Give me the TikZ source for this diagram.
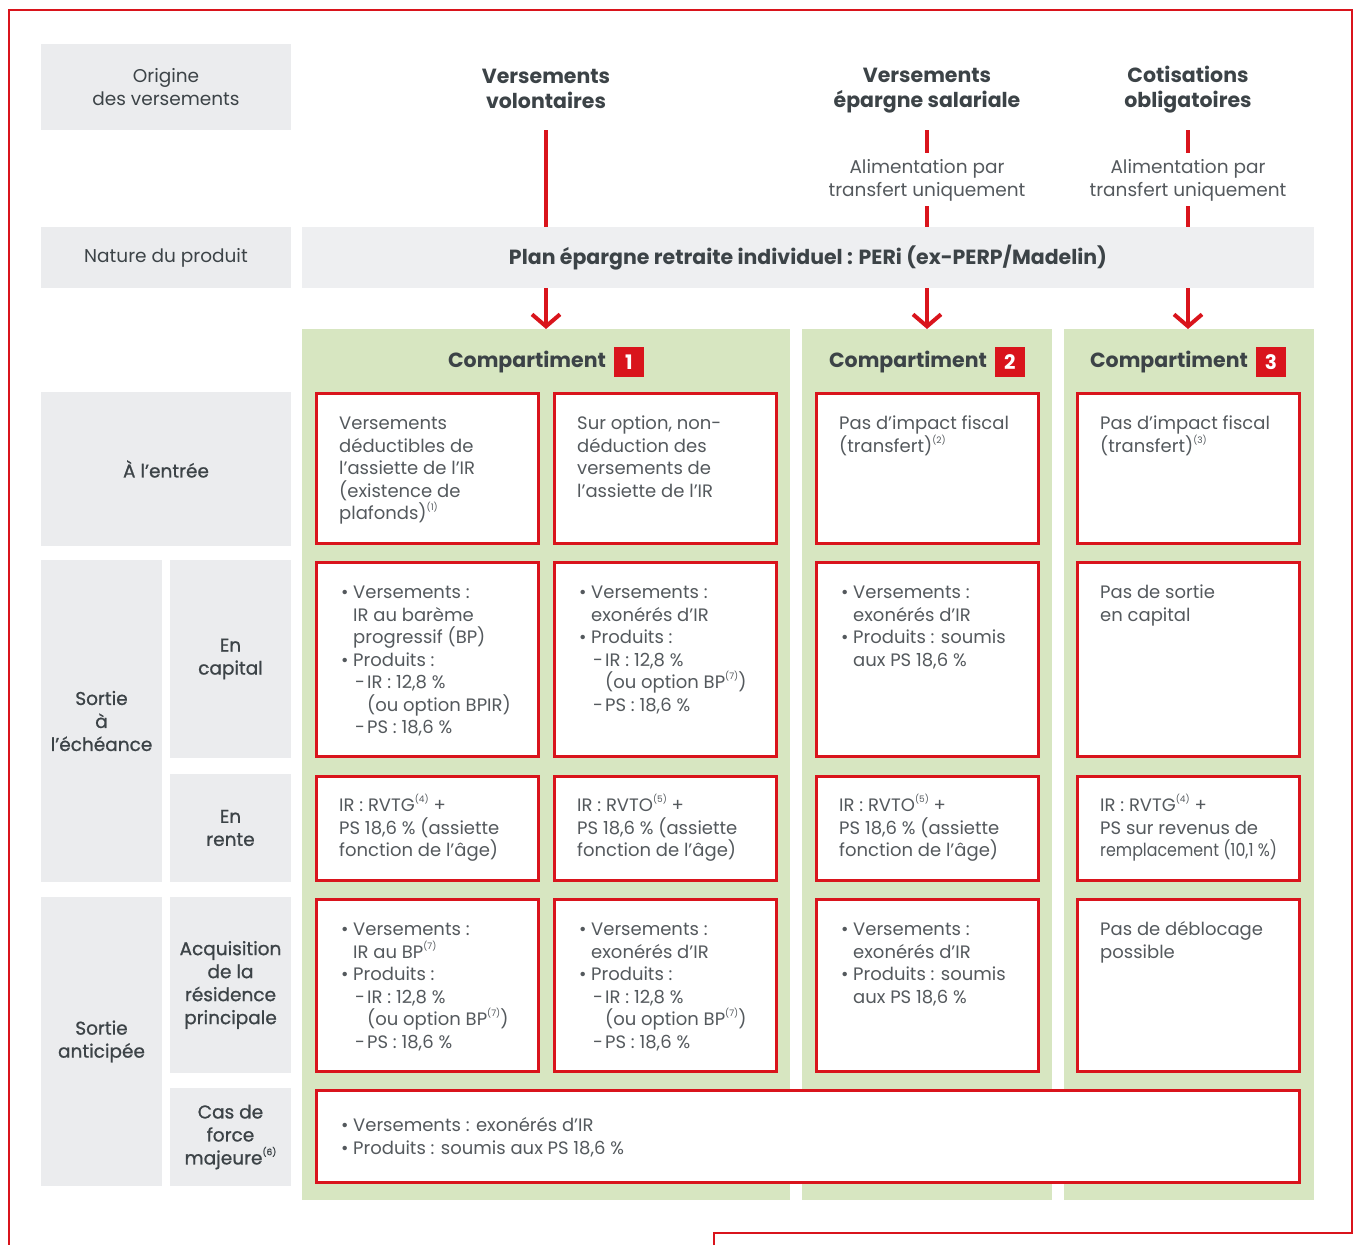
\documentclass[tikz,border=0pt]{standalone}
\usepackage{fontspec}
\usepackage{graphicx}
\setmainfont{Poppins}
\newfontfamily\medfont[FakeBold=0.9]{Poppins}
\usetikzlibrary{arrows.meta}
\definecolor{cred}{HTML}{D9141C}
\definecolor{cgray}{HTML}{EBECEE}
\definecolor{cper}{HTML}{EEEFF1}
\definecolor{cgreen}{HTML}{D7E6C1}
\definecolor{ctxt}{HTML}{3C4347}
\definecolor{cbody}{HTML}{54595D}
\setlength{\fboxsep}{0pt}
\newcommand\fnm[1]{\raisebox{0.5em}{\fontsize{9}{9}\selectfont(#1)}}
\newcommand\bodyfont{\fontsize{18}{22.5}\selectfont}
\newcommand\labfont{\fontsize{18.5}{23}\selectfont}
\newcommand\headfont{\fontsize{20.5}{25}\selectfont\bfseries}
\newcommand\bul{\hspace*{2pt}\makebox[12pt][l]{•}}
\newcommand\ind{\hspace*{14pt}}
\newcommand\subi[1]{\hspace*{16pt}\makebox[12pt][l]{-}#1}
\newcommand\subc{\hspace*{28pt}}
\newcommand\numsq[1]{\colorbox{cred}{\parbox[c][30pt][c]{30pt}{\centering\color{white}\fontsize{20}{20}\selectfont\bfseries #1}}}
\tikzset{
 graybox/.style={fill=cgray, draw=none, inner sep=0pt, outer sep=0pt, align=center, text=ctxt, font=\labfont},
 medbox/.style={graybox, font=\labfont\medfont},
 greencol/.style={fill=cgreen, draw=none, inner sep=0pt, outer sep=0pt},
 cellbox/.style={draw=cred, line width=3pt, fill=white, inner sep=0pt, outer sep=0pt},
 txt/.style={anchor=base west, inner sep=0pt, text=cbody, font=\bodyfont},
 head/.style={align=center, text=ctxt, font=\headfont, inner sep=0pt},
 alim/.style={align=center, text=cbody, font=\labfont, inner sep=0pt},
 redline/.style={draw=cred, line width=4pt},
 redarrow/.style={draw=cred, line width=4pt, -{Straight Barb[length=12pt, width=28pt]}},
 border/.style={draw=cred, line width=2.5pt},
}
\newcommand\gbox[7]{%
 \node[#1, minimum width={#5-#3}, minimum height={#6-#4}] (#2) at ({(#3+#5)/2},{(#4+#6)/2}) {#7};}
\newcommand\cell[7]{%
 \node[cellbox, minimum width={#4-#2-3}, minimum height={#5-#3-3}] (#1) at ({(#2+#4)/2},{(#3+#5)/2}) {};
 \node[txt] (#1t) at ({#2+24},{#3+#6}) {\parbox[t]{400pt}{\raggedright #7}};}
\begin{document}
\begin{tikzpicture}[x=1pt, y=-1pt]
\useasboundingbox (0,0) rectangle (1354,1245);
% outer border
\draw[border] (714,1245) -- (714,1233) -- (1352,1233) -- (1352,10) -- (9,10) -- (9,1245);
% gray labels
\gbox{graybox}{orig}{41}{44}{291}{130}{Origine\\des versements}
\gbox{graybox}{nature}{41}{227}{291}{288}{Nature du produit}
\node[fill=cper, inner sep=0pt, outer sep=0pt, minimum width=1012, minimum height=61, text=ctxt, font=\headfont] (per) at (808,257.5) {Plan épargne retraite individuel : PERi (ex-PERP/Madelin)};
\gbox{medbox}{entree}{41}{392}{291}{546}{À l’entrée}
\gbox{medbox}{sortech}{41}{560}{162}{882}{Sortie\\à\\l’échéance}
\gbox{medbox}{capital}{170}{560}{291}{758}{En\\capital}
\gbox{medbox}{rente}{170}{774}{291}{882}{En\\rente}
\gbox{medbox}{santic}{41}{897}{162}{1186}{Sortie\\anticipée}
\gbox{medbox}{acq}{170}{897}{291}{1073}{Acquisition\\de la\\résidence\\principale}
\gbox{medbox}{fm}{170}{1088}{291}{1186}{Cas de\\force\\majeure\fnm{6}}
% green columns
\gbox{greencol}{col1}{302}{329}{790}{1200}{}
\gbox{greencol}{col2}{802}{329}{1052}{1200}{}
\gbox{greencol}{col3}{1064}{329}{1314}{1200}{}
% headers
\node[head] (v1) at (546,88.5) {Versements\\volontaires};
\node[head] (v2) at (927,91) {Versements\\épargne salariale};
\node[head] (v3) at (1188,90) {Cotisations\\obligatoires};
\node[alim] (al2) at (927,180) {Alimentation par\\transfert uniquement};
\node[alim] (al3) at (1188,180) {Alimentation par\\transfert uniquement};
\coordinate (v1b) at (546,130);
\coordinate (v2b) at (927,130);
\coordinate (v3b) at (1188,130);
\coordinate (al2t) at (927,153);
\coordinate (al2b) at (927,206);
\coordinate (al3t) at (1188,153);
\coordinate (al3b) at (1188,206);
\draw[redline] (v1b) -- (v1b |- per.north);
\draw[redline] (v2b) -- (al2t);
\draw[redline] (al2b) -- (al2b |- per.north);
\draw[redline] (v3b) -- (al3t);
\draw[redline] (al3b) -- (al3b |- per.north);
\draw[redarrow] (v1b |- per.south) -- (v1b |- col1.north);
\draw[redarrow] (v2b |- per.south) -- (v2b |- col2.north);
\draw[redarrow] (v3b |- per.south) -- (v3b |- col3.north);
% compartment titles
\node[head] (c1) at (546,362) {Compartiment\hspace{8pt}\numsq{1}};
\node[head] (c2) at (927,362) {Compartiment\hspace{8pt}\numsq{2}};
\node[head] (c3) at (1188,362) {Compartiment\hspace{8pt}\numsq{3}};
% row entree
\cell{ea}{315}{392}{540}{545}{37.5}{Versements\\déductibles de\\l’assiette de l’IR\\(existence de\\plafonds)\fnm{1}}
\cell{eb}{553}{392}{778}{545}{37.5}{Sur option, non-\\déduction des\\versements de\\l’assiette de l’IR}
\cell{ec}{815}{392}{1040}{545}{37.5}{Pas d’impact fiscal\\(transfert)\fnm{2}}
\cell{ed}{1076}{392}{1301}{545}{37.5}{Pas d’impact fiscal\\(transfert)\fnm{3}}
% row capital
\cell{ka}{315}{561}{540}{758}{37.5}{\bul Versements :\\\ind IR au barème\\\ind progressif (BP)\\\bul Produits :\\\subi{IR : 12,8~\%}\\\subc(ou option BPIR)\\\subi{PS : 18,6~\%}}
\cell{kb}{553}{561}{778}{758}{37.5}{\bul Versements :\\\ind exonérés d’IR\\\bul Produits :\\\subi{IR : 12,8~\%}\\\subc(ou option BP\fnm{7})\\\subi{PS : 18,6~\%}}
\cell{kc}{815}{561}{1040}{758}{37.5}{\bul Versements :\\\ind exonérés d’IR\\\bul Produits : soumis\\\ind aux PS 18,6~\%}
\cell{kd}{1076}{561}{1301}{758}{37.5}{Pas de sortie\\en capital}
% row rente
\cell{ra}{315}{775}{540}{882}{36.5}{IR : RVTG\fnm{4} +\\PS 18,6~\% (assiette\\fonction de l’âge)}
\cell{rb}{553}{775}{778}{882}{36.5}{IR : RVTO\fnm{5} +\\PS 18,6~\% (assiette\\fonction de l’âge)}
\cell{rc}{815}{775}{1040}{882}{36.5}{IR : RVTO\fnm{5} +\\PS 18,6~\% (assiette\\fonction de l’âge)}
\cell{rd}{1076}{775}{1301}{882}{36.5}{IR : RVTG\fnm{4} +\\PS sur revenus de\\\scalebox{0.88}[1]{remplacement (10,1~\%)}}
% row acquisition
\cell{qa}{315}{898}{540}{1073}{37.5}{\bul Versements :\\\ind IR au BP\fnm{7}\\\bul Produits :\\\subi{IR : 12,8~\%}\\\subc(ou option BP\fnm{7})\\\subi{PS : 18,6~\%}}
\cell{qb}{553}{898}{778}{1073}{37.5}{\bul Versements :\\\ind exonérés d’IR\\\bul Produits :\\\subi{IR : 12,8~\%}\\\subc(ou option BP\fnm{7})\\\subi{PS : 18,6~\%}}
\cell{qc}{815}{898}{1040}{1073}{37.5}{\bul Versements :\\\ind exonérés d’IR\\\bul Produits : soumis\\\ind aux PS 18,6~\%}
\cell{qd}{1076}{898}{1301}{1073}{37.5}{Pas de déblocage\\possible}
% force majeure
\cell{fmc}{315}{1089}{1301}{1184}{42.5}{\bul Versements : exonérés d’IR\\\bul Produits : soumis aux PS 18,6~\%}
\end{tikzpicture}
\end{document}
